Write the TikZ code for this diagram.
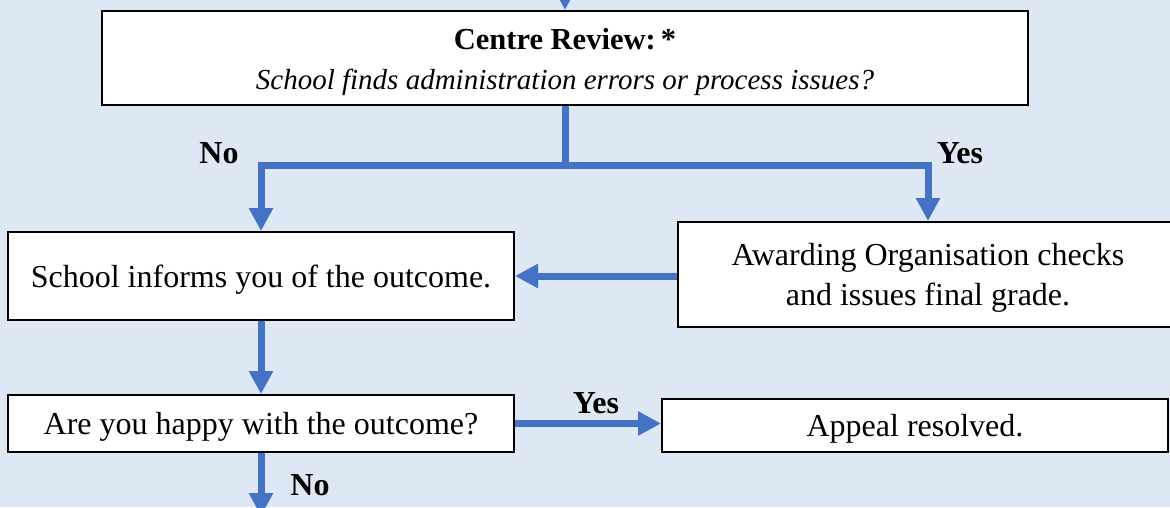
\documentclass[tikz,border=0pt]{standalone}
\usepackage{fontspec}
\setmainfont{Liberation Serif}
\usetikzlibrary{arrows.meta}
\definecolor{bgblue}{HTML}{DDE8F4}
\definecolor{arrowblue}{HTML}{4472C4}
\newcommand\mystrut{\rule{0pt}{29pt}}
\begin{document}
\begin{tikzpicture}[x=1pt,y=-1pt,
  box/.style={draw=black,line width=2pt,fill=white,inner sep=0pt,align=center,font=\fontsize{32}{40}\selectfont},
  flow/.style={draw=arrowblue,line width=7pt,-{Triangle[width=23pt,length=23pt]}},
  lbl/.style={font=\fontsize{32}{36}\selectfont\bfseries,inner sep=0pt}]
\useasboundingbox (0,0) rectangle (1170,507);
\fill[bgblue] (0,0) rectangle (1170,507);
\node[box,minimum width=926pt,minimum height=94pt] (centre) at (565,58)
  {{\fontsize{30.5}{38}\selectfont\bfseries\mystrut Centre Review:\,*}\\{\fontsize{29}{38}\selectfont\itshape School finds administration errors or process issues?}};
\node[box,minimum width=506pt,minimum height=88pt] (school) at (261,276) {\mystrut School informs you of the outcome.};
\node[box,minimum width=500pt,minimum height=105pt] (award) at (928,274.5) {\mystrut Awarding Organisation checks\\and issues final grade.};
\node[box,minimum width=506pt,minimum height=57pt] (happy) at (261,423.5) {\mystrut Are you happy with the outcome?};
\node[box,minimum width=506pt,minimum height=53pt] (appeal) at (915,425.5) {\mystrut Appeal resolved.};
\coordinate (top) at (565,-25);
\coordinate (split) at (565,165);
\coordinate (bottom) at (261,516);
\draw[flow] (top) -- (centre.north);
\draw[flow] (centre.south) -- (split) -| (school.north);
\draw[flow] (split) -| (award.north);
\draw[flow] (award.west |- school.east) -- (school.east);
\draw[flow] (school.south) -- (happy.north);
\draw[flow] (happy.east) -- (happy.east -| appeal.west);
\draw[flow] (happy.south) -- (bottom);
\node[lbl] (lno1) at (219,153) {No};
\node[lbl] (lyes1) at (960,153) {Yes};
\node[lbl] (lyes2) at (596,403) {Yes};
\node[lbl] (lno2) at (310,485) {No};
\end{tikzpicture}
\end{document}
